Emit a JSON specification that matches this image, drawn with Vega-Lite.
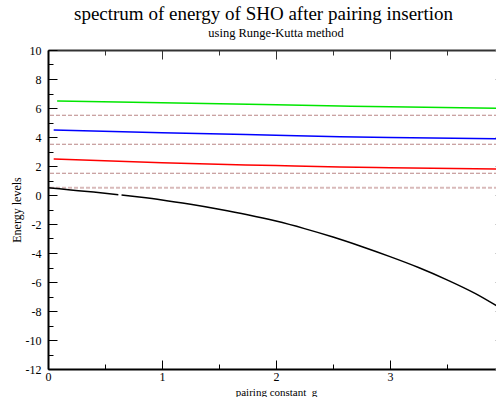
{
  "$schema": "https://vega.github.io/schema/vega-lite/v6.json",
  "background": "white",
  "padding": {"left": 10, "top": 4, "right": 0, "bottom": 0},
  "title": {"text": "spectrum of energy of SHO after pairing insertion", "font": "Liberation Serif", "fontSize": 19, "fontWeight": "normal", "anchor": "middle", "frame": "bounds", "offset": 3, "dx": 5, "color": "black"},
  "config": {"view": {"stroke": null}, "font": "Liberation Serif"},
  "datasets": {
    "curves": [
      {"g": 0.0, "E": 0.5, "s": "ground", "seg": "a"},
      {"g": 0.2, "E": 0.35, "s": "ground", "seg": "a"},
      {"g": 0.4, "E": 0.2, "s": "ground", "seg": "a"},
      {"g": 0.617, "E": 0.02, "s": "ground", "seg": "a"},
      {"g": 0.645, "E": 0.0, "s": "ground", "seg": "b"},
      {"g": 0.8, "E": -0.14, "s": "ground", "seg": "b"},
      {"g": 1.0, "E": -0.34, "s": "ground", "seg": "b"},
      {"g": 1.25, "E": -0.64, "s": "ground", "seg": "b"},
      {"g": 1.5, "E": -0.98, "s": "ground", "seg": "b"},
      {"g": 1.75, "E": -1.36, "s": "ground", "seg": "b"},
      {"g": 2.0, "E": -1.8, "s": "ground", "seg": "b"},
      {"g": 2.25, "E": -2.32, "s": "ground", "seg": "b"},
      {"g": 2.5, "E": -2.9, "s": "ground", "seg": "b"},
      {"g": 2.75, "E": -3.55, "s": "ground", "seg": "b"},
      {"g": 3.0, "E": -4.25, "s": "ground", "seg": "b"},
      {"g": 3.25, "E": -5.0, "s": "ground", "seg": "b"},
      {"g": 3.5, "E": -5.85, "s": "ground", "seg": "b"},
      {"g": 3.75, "E": -6.8, "s": "ground", "seg": "b"},
      {"g": 4.0, "E": -7.95, "s": "ground", "seg": "b"},
      {"g": 0.05, "E": 2.48, "s": "first", "seg": "a"},
      {"g": 1.0, "E": 2.22, "s": "first", "seg": "a"},
      {"g": 2.0, "E": 2.03, "s": "first", "seg": "a"},
      {"g": 2.56, "E": 1.93, "s": "first", "seg": "a"},
      {"g": 3.0, "E": 1.88, "s": "first", "seg": "a"},
      {"g": 4.0, "E": 1.78, "s": "first", "seg": "a"},
      {"g": 0.05, "E": 4.48, "s": "second", "seg": "a"},
      {"g": 1.0, "E": 4.3, "s": "second", "seg": "a"},
      {"g": 2.0, "E": 4.12, "s": "second", "seg": "a"},
      {"g": 2.56, "E": 4.02, "s": "second", "seg": "a"},
      {"g": 3.0, "E": 3.96, "s": "second", "seg": "a"},
      {"g": 4.0, "E": 3.87, "s": "second", "seg": "a"},
      {"g": 0.08, "E": 6.48, "s": "third", "seg": "a"},
      {"g": 1.0, "E": 6.36, "s": "third", "seg": "a"},
      {"g": 2.0, "E": 6.22, "s": "third", "seg": "a"},
      {"g": 2.56, "E": 6.14, "s": "third", "seg": "a"},
      {"g": 3.0, "E": 6.08, "s": "third", "seg": "a"},
      {"g": 4.0, "E": 5.98, "s": "third", "seg": "a"}
    ],
    "levels": [{"y": 0.5}, {"y": 1.5}, {"y": 3.5}, {"y": 5.5}]
  },
  "vconcat": [
    {
      "width": 456,
      "height": 319,
      "title": {"text": "using Runge-Kutta method", "font": "Liberation Serif", "fontSize": 12.5, "fontWeight": "normal", "anchor": "middle", "frame": "group", "baseline": "bottom", "offset": -8, "color": "black"},
      "resolve": {"axis": {"x": "independent", "y": "independent"}},
      "layer": [
        {
          "data": {"name": "levels"},
          "mark": {"type": "rule", "strokeDash": [4, 2]},
          "encoding": {
            "y": {"field": "y", "type": "quantitative", "axis": null},
            "color": {"condition": {"test": "datum.y == 0.5", "value": "#d9baba"}, "value": "#b98585"},
            "strokeWidth": {"condition": {"test": "datum.y == 0.5", "value": 2}, "value": 1}
          }
        },
        {
          "data": {"name": "curves"},
          "mark": {"type": "line", "strokeWidth": 1.5, "interpolate": "monotone"},
          "encoding": {
            "x": {"field": "g", "type": "quantitative", "scale": {"domain": [0, 4], "nice": false, "zero": false},
              "axis": {"orient": "bottom", "values": [0, 1, 2, 3], "tickSize": -9, "tickColor": "black", "domainColor": "black", "domainWidth": 2, "grid": false,
                "labelFont": "Liberation Serif", "labelFontSize": 12, "labelColor": "black", "labelPadding": 11, "labelFlush": false, "labelOverlap": false, "labelExpr": "'' + datum.value",
                "title": "pairing constant\u00a0 g", "titleFont": "Liberation Serif", "titleFontSize": 11, "titleFontWeight": "normal", "titleColor": "black", "titlePadding": 4}},
            "y": {"field": "E", "type": "quantitative", "scale": {"domain": [-12, 10], "nice": false, "zero": false},
              "axis": {"orient": "left", "values": [-12, -10, -8, -6, -4, -2, 0, 2, 4, 6, 8, 10], "tickSize": -9, "tickColor": "black", "domainColor": "black", "domainWidth": 2, "grid": false,
                "labelFont": "Liberation Serif", "labelFontSize": 12, "labelColor": "black", "labelPadding": 16, "labelFlush": false, "labelOverlap": false, "labelExpr": "'' + datum.value",
                "title": "Energy levels", "titleFont": "Liberation Serif", "titleFontSize": 12, "titleFontWeight": "normal", "titleColor": "black", "titlePadding": 2}},
            "color": {"field": "s", "type": "nominal", "scale": {"domain": ["ground", "first", "second", "third"], "range": ["black", "#ff0000", "#0000ff", "#00e600"]}, "legend": null},
            "detail": {"field": "seg", "type": "nominal"}
          }
        },
        {
          "data": {"name": "curves"},
          "mark": {"type": "line", "opacity": 0},
          "encoding": {
            "x": {"field": "g", "type": "quantitative",
              "axis": {"orient": "bottom", "values": [0.5, 1.5, 2.5, 3.5], "tickSize": -5, "tickColor": "black", "domain": false, "labels": false, "grid": false, "title": null}},
            "y": {"field": "E", "type": "quantitative",
              "axis": {"orient": "left", "values": [-11, -9, -7, -5, -3, -1, 1, 3, 5, 7, 9], "tickSize": -5, "tickColor": "black", "domain": false, "labels": false, "grid": false, "title": null}},
            "detail": {"field": "seg", "type": "nominal"}
          }
        },
        {
          "data": {"name": "curves"},
          "mark": {"type": "line", "opacity": 0},
          "encoding": {
            "x": {"field": "g", "type": "quantitative",
              "axis": {"orient": "top", "values": [0, 1, 2, 3, 4], "tickSize": -9, "tickColor": "#333333", "domainColor": "#333333", "domainWidth": 2, "labels": false, "grid": false, "title": null}},
            "y": {"field": "E", "type": "quantitative",
              "axis": {"orient": "right", "values": [-12, -10, -8, -6, -4, -2, 0, 2, 4, 6, 8, 10], "tickSize": -9, "tickColor": "#999999", "domain": false, "labels": false, "grid": false, "title": null}},
            "detail": {"field": "seg", "type": "nominal"}
          }
        },
        {
          "data": {"name": "curves"},
          "mark": {"type": "line", "opacity": 0},
          "encoding": {
            "x": {"field": "g", "type": "quantitative",
              "axis": {"orient": "top", "values": [0.5, 1.5, 2.5, 3.5], "tickSize": -5, "tickColor": "#333333", "domain": false, "labels": false, "grid": false, "title": null}},
            "y": {"field": "E", "type": "quantitative",
              "axis": {"orient": "right", "values": [-11, -9, -7, -5, -3, -1, 1, 3, 5, 7, 9], "tickSize": -5, "tickColor": "#999999", "domain": false, "labels": false, "grid": false, "title": null}},
            "detail": {"field": "seg", "type": "nominal"}
          }
        }
      ]
    }
  ]
}
